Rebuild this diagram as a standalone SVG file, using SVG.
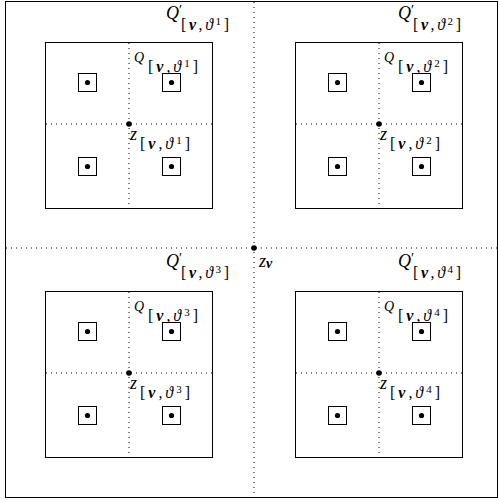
<svg xmlns="http://www.w3.org/2000/svg" width="499" height="502" viewBox="0 0 499 502">
<style>
.frame{fill:none;stroke:#000;stroke-width:1}
.outer{fill:none;stroke:#000;stroke-width:1}
.dot{fill:none;stroke:#000;stroke-width:1;stroke-dasharray:1 4}
.sq{fill:none;stroke:#000;stroke-width:1}
.pt{fill:#000}
text{fill:#000;font-family:"Liberation Serif","DejaVu Serif",serif;font-style:italic}
.r{font-style:normal}
.b{font-weight:bold}
.lq{font-size:18px}
.lqs{font-size:14px}
.ls{font-size:16px}
.lz{font-size:18px}
.sup{font-size:11px}
</style>
<rect x="0" y="0" width="499" height="502" fill="#fff"/>
<rect class="outer" x="5.5" y="1.5" width="492" height="496"/>
<g id="connectors">
<line class="dot" x1="254" y1="2" x2="254" y2="497"/>
<line class="dot" x1="6" y1="248" x2="497" y2="248"/>
<line class="dot" x1="129" y1="43" x2="129" y2="208"/>
<line class="dot" x1="46" y1="124" x2="212" y2="124"/>
<line class="dot" x1="379" y1="43" x2="379" y2="208"/>
<line class="dot" x1="296" y1="124" x2="462" y2="124"/>
<line class="dot" x1="129" y1="292" x2="129" y2="457"/>
<line class="dot" x1="46" y1="373" x2="212" y2="373"/>
<line class="dot" x1="379" y1="292" x2="379" y2="457"/>
<line class="dot" x1="296" y1="373" x2="462" y2="373"/>
</g>
<g id="zv">
<circle class="pt" cx="254" cy="248" r="2.8"/>
<text class="lz" x="259" y="267">z<tspan class="b" font-size="14" dy="1">v</tspan></text>
</g>

<g id="Q1">
<text class="lq" x="166" y="19">Q<tspan class="r" font-size="14" dy="-4">′</tspan></text>
<text class="ls" x="181" y="30" textLength="48"><tspan class="r">[</tspan><tspan class="b">v</tspan><tspan class="r">,</tspan>ϑ<tspan class="r sup" dy="-5">1</tspan><tspan class="r" dy="5">]</tspan></text>
<rect class="frame" x="45.5" y="42.5" width="167" height="166"/>
<circle class="pt" cx="129" cy="124" r="2.8"/>
<text class="lqs" x="134" y="62">Q</text>
<text class="ls" x="148" y="72" textLength="50"><tspan class="r">[</tspan><tspan class="b">v</tspan><tspan class="r">,</tspan>ϑ<tspan class="r sup" dy="-5">1</tspan><tspan class="r" dy="5">]</tspan></text>
<text class="lz" x="130" y="140">z</text>
<text class="ls" x="140" y="149" textLength="50"><tspan class="r">[</tspan><tspan class="b">v</tspan><tspan class="r">,</tspan>ϑ<tspan class="r sup" dy="-5">1</tspan><tspan class="r" dy="5">]</tspan></text>
<rect class="sq" x="78.5" y="73.5" width="18" height="18"/><circle class="pt" cx="87.5" cy="82.5" r="2.6"/>
<rect class="sq" x="162.5" y="73.5" width="18" height="18"/><circle class="pt" cx="171.5" cy="82.5" r="2.6"/>
<rect class="sq" x="78.5" y="157.5" width="18" height="18"/><circle class="pt" cx="87.5" cy="166.5" r="2.6"/>
<rect class="sq" x="162.5" y="157.5" width="18" height="18"/><circle class="pt" cx="171.5" cy="166.5" r="2.6"/>
</g>

<g id="Q2">
<text class="lq" x="398" y="19">Q<tspan class="r" font-size="14" dy="-4">′</tspan></text>
<text class="ls" x="413" y="30" textLength="48"><tspan class="r">[</tspan><tspan class="b">v</tspan><tspan class="r">,</tspan>ϑ<tspan class="r sup" dy="-5">2</tspan><tspan class="r" dy="5">]</tspan></text>
<rect class="frame" x="295.5" y="42.5" width="167" height="166"/>
<circle class="pt" cx="379" cy="124" r="2.8"/>
<text class="lqs" x="384" y="62">Q</text>
<text class="ls" x="398" y="72" textLength="50"><tspan class="r">[</tspan><tspan class="b">v</tspan><tspan class="r">,</tspan>ϑ<tspan class="r sup" dy="-5">2</tspan><tspan class="r" dy="5">]</tspan></text>
<text class="lz" x="380" y="140">z</text>
<text class="ls" x="390" y="149" textLength="50"><tspan class="r">[</tspan><tspan class="b">v</tspan><tspan class="r">,</tspan>ϑ<tspan class="r sup" dy="-5">2</tspan><tspan class="r" dy="5">]</tspan></text>
<rect class="sq" x="328.5" y="73.5" width="18" height="18"/><circle class="pt" cx="337.5" cy="82.5" r="2.6"/>
<rect class="sq" x="412.5" y="73.5" width="18" height="18"/><circle class="pt" cx="421.5" cy="82.5" r="2.6"/>
<rect class="sq" x="328.5" y="157.5" width="18" height="18"/><circle class="pt" cx="337.5" cy="166.5" r="2.6"/>
<rect class="sq" x="412.5" y="157.5" width="18" height="18"/><circle class="pt" cx="421.5" cy="166.5" r="2.6"/>
</g>

<g id="Q3">
<text class="lq" x="166" y="267">Q<tspan class="r" font-size="14" dy="-4">′</tspan></text>
<text class="ls" x="181" y="278" textLength="48"><tspan class="r">[</tspan><tspan class="b">v</tspan><tspan class="r">,</tspan>ϑ<tspan class="r sup" dy="-5">3</tspan><tspan class="r" dy="5">]</tspan></text>
<rect class="frame" x="45.5" y="291.5" width="167" height="166"/>
<circle class="pt" cx="129" cy="373" r="2.8"/>
<text class="lqs" x="134" y="311">Q</text>
<text class="ls" x="148" y="321" textLength="50"><tspan class="r">[</tspan><tspan class="b">v</tspan><tspan class="r">,</tspan>ϑ<tspan class="r sup" dy="-5">3</tspan><tspan class="r" dy="5">]</tspan></text>
<text class="lz" x="130" y="389">z</text>
<text class="ls" x="140" y="398" textLength="50"><tspan class="r">[</tspan><tspan class="b">v</tspan><tspan class="r">,</tspan>ϑ<tspan class="r sup" dy="-5">3</tspan><tspan class="r" dy="5">]</tspan></text>
<rect class="sq" x="78.5" y="322.5" width="18" height="18"/><circle class="pt" cx="87.5" cy="331.5" r="2.6"/>
<rect class="sq" x="162.5" y="322.5" width="18" height="18"/><circle class="pt" cx="171.5" cy="331.5" r="2.6"/>
<rect class="sq" x="78.5" y="406.5" width="18" height="18"/><circle class="pt" cx="87.5" cy="415.5" r="2.6"/>
<rect class="sq" x="162.5" y="406.5" width="18" height="18"/><circle class="pt" cx="171.5" cy="415.5" r="2.6"/>
</g>

<g id="Q4">
<text class="lq" x="398" y="267">Q<tspan class="r" font-size="14" dy="-4">′</tspan></text>
<text class="ls" x="413" y="278" textLength="48"><tspan class="r">[</tspan><tspan class="b">v</tspan><tspan class="r">,</tspan>ϑ<tspan class="r sup" dy="-5">4</tspan><tspan class="r" dy="5">]</tspan></text>
<rect class="frame" x="295.5" y="291.5" width="167" height="166"/>
<circle class="pt" cx="379" cy="373" r="2.8"/>
<text class="lqs" x="384" y="311">Q</text>
<text class="ls" x="398" y="321" textLength="50"><tspan class="r">[</tspan><tspan class="b">v</tspan><tspan class="r">,</tspan>ϑ<tspan class="r sup" dy="-5">4</tspan><tspan class="r" dy="5">]</tspan></text>
<text class="lz" x="380" y="389">z</text>
<text class="ls" x="390" y="398" textLength="50"><tspan class="r">[</tspan><tspan class="b">v</tspan><tspan class="r">,</tspan>ϑ<tspan class="r sup" dy="-5">4</tspan><tspan class="r" dy="5">]</tspan></text>
<rect class="sq" x="328.5" y="322.5" width="18" height="18"/><circle class="pt" cx="337.5" cy="331.5" r="2.6"/>
<rect class="sq" x="412.5" y="322.5" width="18" height="18"/><circle class="pt" cx="421.5" cy="331.5" r="2.6"/>
<rect class="sq" x="328.5" y="406.5" width="18" height="18"/><circle class="pt" cx="337.5" cy="415.5" r="2.6"/>
<rect class="sq" x="412.5" y="406.5" width="18" height="18"/><circle class="pt" cx="421.5" cy="415.5" r="2.6"/>
</g>
</svg>
